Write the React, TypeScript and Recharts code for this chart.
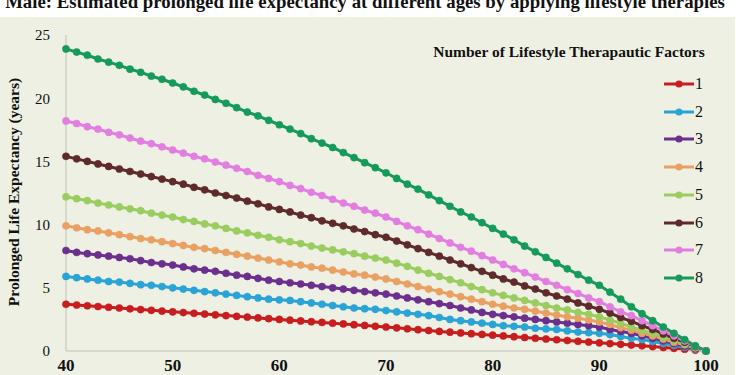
import React from "react";
import { LineChart, Line, XAxis, YAxis } from "recharts";

const ages = [
  40, 41, 42, 43, 44, 45, 46, 47, 48, 49, 50, 51, 52, 53, 54, 55, 56, 57, 58, 59,
  60, 61, 62, 63, 64, 65, 66, 67, 68, 69, 70, 71, 72, 73, 74, 75, 76, 77, 78, 79,
  80, 81, 82, 83, 84, 85, 86, 87, 88, 89, 90, 91, 92, 93, 94, 95, 96, 97, 98, 99,
  100,
];

const factor1 = [
  3.7, 3.64, 3.58, 3.52, 3.46, 3.4, 3.34, 3.28, 3.22, 3.16, 3.1, 3.04, 2.98, 2.92,
  2.86, 2.8, 2.74, 2.68, 2.62, 2.56, 2.5, 2.44, 2.38, 2.32, 2.26, 2.2, 2.14, 2.08,
  2.02, 1.96, 1.9, 1.83, 1.76, 1.69, 1.62, 1.55, 1.49, 1.43, 1.37, 1.31, 1.25,
  1.19, 1.13, 1.07, 1.01, 0.95, 0.89, 0.83, 0.77, 0.71, 0.65, 0.59, 0.53, 0.47,
  0.41, 0.35, 0.28, 0.21, 0.14, 0.07, 0,
];
const factor2 = [
  5.9, 5.8, 5.7, 5.6, 5.5, 5.45, 5.35, 5.25, 5.2, 5.1, 5.0, 4.9, 4.8, 4.7, 4.6,
  4.5, 4.4, 4.3, 4.2, 4.1, 4.05, 4.0, 3.9, 3.8, 3.7, 3.6, 3.5, 3.4, 3.35, 3.3,
  3.2, 3.1, 3.0, 2.9, 2.8, 2.65, 2.5, 2.4, 2.3, 2.2, 2.1, 2.0, 1.95, 1.9, 1.8,
  1.75, 1.7, 1.6, 1.5, 1.45, 1.4, 1.3, 1.15, 1.0, 0.9, 0.75, 0.6, 0.45, 0.3, 0.15,
  0,
];
const factor3 = [
  7.95, 7.8, 7.7, 7.6, 7.5, 7.4, 7.3, 7.15, 7.0, 6.9, 6.8, 6.65, 6.5, 6.4, 6.3,
  6.15, 6.0, 5.9, 5.75, 5.6, 5.5, 5.4, 5.3, 5.2, 5.1, 5.0, 4.9, 4.8, 4.7, 4.6, 4.5,
  4.35, 4.2, 4.05, 3.9, 3.75, 3.6, 3.4, 3.25, 3.05, 2.9, 2.8, 2.7, 2.6, 2.5, 2.4,
  2.3, 2.2, 2.1, 2.0, 1.9, 1.7, 1.55, 1.4, 1.2, 1.0, 0.8, 0.6, 0.4, 0.2, 0,
];
const factor4 = [
  9.9, 9.75, 9.6, 9.5, 9.35, 9.2, 9.05, 8.9, 8.8, 8.65, 8.5, 8.35, 8.2, 8.1, 7.95,
  7.8, 7.65, 7.5, 7.35, 7.2, 7.05, 6.9, 6.8, 6.65, 6.55, 6.4, 6.25, 6.1, 6.0, 5.85,
  5.7, 5.5, 5.3, 5.1, 4.9, 4.7, 4.5, 4.3, 4.1, 3.9, 3.7, 3.55, 3.4, 3.3, 3.15, 3.0,
  2.85, 2.7, 2.6, 2.45, 2.3, 2.1, 1.85, 1.65, 1.4, 1.2, 0.95, 0.7, 0.5, 0.25, 0,
];
const factor5 = [
  12.2, 12.05, 11.9, 11.7, 11.55, 11.4, 11.25, 11.1, 10.9, 10.75, 10.6, 10.4,
  10.25, 10.05, 9.9, 9.7, 9.5, 9.35, 9.15, 9.0, 8.8, 8.65, 8.5, 8.3, 8.15, 8.0,
  7.85, 7.7, 7.5, 7.35, 7.2, 6.95, 6.7, 6.4, 6.15, 5.9, 5.65, 5.4, 5.1, 4.85, 4.6,
  4.4, 4.2, 4.0, 3.8, 3.6, 3.4, 3.25, 3.05, 2.9, 2.7, 2.45, 2.2, 1.9, 1.65, 1.4,
  1.1, 0.85, 0.55, 0.3, 0,
];
const factor6 = [
  15.4, 15.2, 15.0, 14.8, 14.6, 14.4, 14.2, 14.0, 13.8, 13.6, 13.4, 13.2, 12.95,
  12.75, 12.5, 12.3, 12.1, 11.85, 11.65, 11.4, 11.2, 11.0, 10.75, 10.55, 10.3,
  10.1, 9.9, 9.65, 9.45, 9.2, 9.0, 8.7, 8.4, 8.1, 7.8, 7.5, 7.2, 6.9, 6.6, 6.3,
  6.0, 5.7, 5.45, 5.15, 4.9, 4.6, 4.35, 4.1, 3.8, 3.55, 3.3, 3.0, 2.65, 2.35, 2.0,
  1.7, 1.35, 1.0, 0.7, 0.35, 0,
];
const factor7 = [
  18.2, 18.0, 17.75, 17.55, 17.3, 17.1, 16.85, 16.6, 16.4, 16.15, 15.9, 15.65,
  15.4, 15.2, 14.95, 14.7, 14.45, 14.2, 13.9, 13.65, 13.4, 13.1, 12.85, 12.55,
  12.3, 12.0, 11.7, 11.45, 11.15, 10.9, 10.6, 10.25, 9.9, 9.6, 9.25, 8.9, 8.55,
  8.2, 7.9, 7.55, 7.2, 6.85, 6.5, 6.2, 5.85, 5.5, 5.2, 4.85, 4.55, 4.2, 3.9, 3.5,
  3.1, 2.8, 2.4, 2.0, 1.6, 1.2, 0.8, 0.4, 0,
];
const factor8 = [
  23.9, 23.65, 23.4, 23.1, 22.85, 22.6, 22.3, 22.05, 21.75, 21.5, 21.2, 20.9,
  20.55, 20.25, 19.9, 19.6, 19.25, 18.9, 18.6, 18.25, 17.9, 17.55, 17.2, 16.8,
  16.45, 16.1, 15.7, 15.3, 14.9, 14.5, 14.1, 13.65, 13.2, 12.8, 12.35, 11.9,
  11.45, 11.0, 10.6, 10.15, 9.7, 9.25, 8.8, 8.3, 7.85, 7.4, 6.95, 6.5, 6.05, 5.6,
  5.2, 4.65, 4.1, 3.5, 2.95, 2.4, 1.9, 1.4, 0.9, 0.4, 0,
];

const factorNames = ["1", "2", "3", "4", "5", "6", "7", "8"];
const factorColors = [
  "#c81d1f",
  "#2aa3d6",
  "#6b2f8e",
  "#eaa062",
  "#9bcc5f",
  "#5e2a2b",
  "#e27ee0",
  "#169a5c",
];
const xTicks = [40, 50, 60, 70, 80, 90, 100];
const yTicks = [0, 5, 10, 15, 20, 25];

const series = [factor1, factor2, factor3, factor4, factor5, factor6, factor7, factor8];

const data = ages.map((age, i) => {
  const row: Record<string, number> = { age };
  series.forEach((s, k) => {
    row["f" + (k + 1)] = s[i];
  });
  return row;
});

const serif = '"Liberation Serif", "Times New Roman", serif';
const panel = "#edf0e2";

// legend drawn as an overlay so the plot keeps its full height
function FactorLegend() {
  return (
    <div
      style={{
        position: "absolute",
        left: 428,
        top: 43,
        width: 300,
        height: 260,
        fontFamily: serif,
      }}
    >
      <div
        style={{
          position: "absolute",
          left: 0,
          top: 0,
          width: 282,
          textAlign: "center",
          fontWeight: "bold",
          fontSize: 15.5,
          color: "#111",
          whiteSpace: "nowrap",
        }}
      >
        Number of Lifestyle Therapautic Factors
      </div>
      {factorNames.map((name, i) => (
        <div
          key={name}
          style={{
            position: "absolute",
            left: 236,
            top: 32 + i * 27.7,
            height: 18,
            display: "flex",
            alignItems: "center",
          }}
        >
          <svg width={30} height={10}>
            <line x1={0} y1={5} x2={30} y2={5} stroke={factorColors[i]} strokeWidth={3} />
            <circle cx={15} cy={5} r={3.6} fill={factorColors[i]} />
          </svg>
          <span style={{ fontSize: 16, color: "#111", marginLeft: 1 }}>{name}</span>
        </div>
      ))}
    </div>
  );
}

export default function App() {
  return (
    <div
      style={{
        position: "fixed",
        left: 0,
        top: 0,
        width: 750,
        height: 375,
        background: "#fff",
        overflow: "hidden",
      }}
    >
      <div
        style={{
          position: "absolute",
          left: 0,
          top: 17,
          width: 735,
          height: 358,
          background: panel,
        }}
      />
      <div
        style={{
          position: "absolute",
          left: 0,
          top: -9,
          width: 730,
          textAlign: "center",
          fontFamily: serif,
          fontWeight: "bold",
          fontSize: 18.8,
          color: "#111",
          whiteSpace: "nowrap",
        }}
      >
        Male: Estimated prolonged life expectancy at different ages by applying lifestyle therapies
      </div>
      <div
        style={{
          position: "absolute",
          left: 14,
          top: 192,
          transform: "translate(-50%, -50%) rotate(-90deg)",
          fontFamily: serif,
          fontWeight: "bold",
          fontSize: 15.5,
          color: "#111",
          whiteSpace: "nowrap",
        }}
      >
        Prolonged Life Expectancy (years)
      </div>
      <div style={{ position: "absolute", left: 0, top: 0 }}>
        <LineChart
          width={750}
          height={375}
          data={data}
          margin={{ top: 35, right: 44, bottom: 0, left: 30 }}
        >
          <XAxis
            dataKey="age"
            type="number"
            domain={[40, 100]}
            ticks={xTicks}
            interval={0}
            tickLine={false}
            tickSize={6}
            tickMargin={2}
            height={24}
            axisLine={{ stroke: "#cfd2c6", strokeWidth: 1.5 }}
            tick={{ fill: "#111", fontSize: 17, fontWeight: "bold", fontFamily: serif }}
          />
          <YAxis
            type="number"
            domain={[0, 25]}
            ticks={yTicks}
            interval={0}
            width={36}
            tickLine={false}
            tickSize={6}
            tickMargin={10}
            axisLine={{ stroke: "#cfd2c6", strokeWidth: 1.5 }}
            tick={{ fill: "#111", fontSize: 15, fontFamily: serif }}
          />
          {factorNames.map((name, i) => (
            <Line
              key={name}
              type="linear"
              dataKey={"f" + (i + 1)}
              name={name}
              stroke={factorColors[i]}
              strokeWidth={3}
              dot={{ r: 3.6, fill: factorColors[i], stroke: factorColors[i], strokeWidth: 0.5 }}
              activeDot={false}
              isAnimationActive={false}
            />
          ))}
        </LineChart>
      </div>
      <FactorLegend />
    </div>
  );
}
